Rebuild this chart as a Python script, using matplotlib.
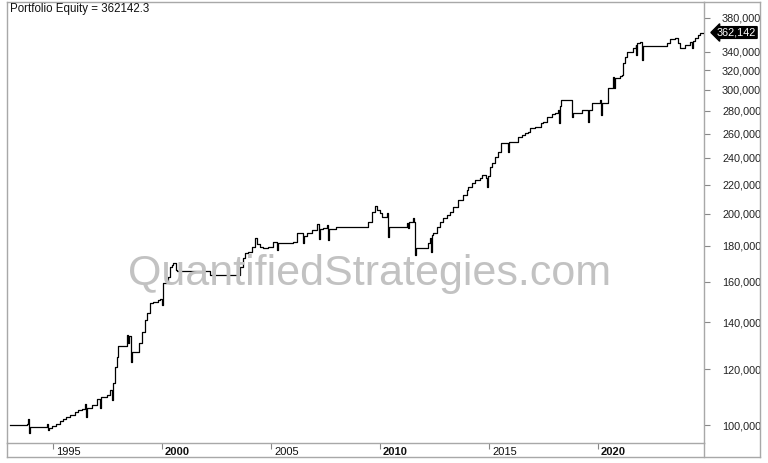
import matplotlib
matplotlib.use("Agg")
import matplotlib.pyplot as plt
import matplotlib.transforms as mtransforms
from matplotlib.lines import Line2D
from matplotlib.ticker import NullLocator, FixedLocator

plt.rcParams['font.family'] = ['Liberation Sans', 'DejaVu Sans']

# ---- data (decimal year, portfolio equity) ----
dates = [
    1993.03, 1993.81, 1993.85, 1993.90, 1993.95, 1994.72, 1994.77, 1994.82, 1994.95,
    1995.14, 1995.32, 1995.46, 1995.60, 1995.78, 1996.01, 1996.15, 1996.33, 1996.47,
    1996.50, 1996.55, 1996.79, 1997.02, 1997.16, 1997.20, 1997.48, 1997.61, 1997.71,
    1997.75, 1997.84, 1997.94, 1997.98, 1998.39, 1998.45, 1998.50, 1998.58, 1998.62,
    1998.94, 1999.08, 1999.22, 1999.31, 1999.45, 1999.59, 1999.80, 1999.91, 2000.00,
    2000.05, 2000.23, 2000.28, 2000.37, 2000.46, 2000.50, 2000.64, 2000.69, 2002.20,
    2003.58, 2003.72, 2003.81, 2003.94, 2004.13, 2004.27, 2004.35, 2004.50, 2004.63,
    2004.86, 2005.09, 2005.28, 2005.33, 2006.01, 2006.19, 2006.47, 2006.52, 2006.65,
    2006.88, 2007.11, 2007.20, 2007.25, 2007.39, 2007.57, 2007.60, 2007.65, 2008.00,
    2009.45, 2009.63, 2009.77, 2009.86, 2010.00, 2010.09, 2010.32, 2010.37, 2010.42,
    2011.24, 2011.28, 2011.33, 2011.51, 2011.56, 2011.61, 2011.66, 2012.20, 2012.29,
    2012.34, 2012.38, 2012.43, 2012.61, 2012.75, 2012.89, 2013.07, 2013.21, 2013.35,
    2013.58, 2013.81, 2013.99, 2014.05, 2014.22, 2014.36, 2014.59, 2014.68, 2014.88,
    2014.91, 2014.96, 2015.05, 2015.14, 2015.28, 2015.41, 2015.55, 2015.87, 2015.92,
    2016.33, 2016.51, 2016.65, 2016.79, 2016.88, 2017.11, 2017.39, 2017.48, 2017.66,
    2017.89, 2018.03, 2018.17, 2018.20, 2018.25, 2018.30, 2018.81, 2018.86, 2019.27,
    2019.54, 2019.55, 2019.60, 2019.72, 2020.09, 2020.12, 2020.17, 2020.46, 2020.69,
    2020.75, 2020.80, 2021.01, 2021.10, 2021.15, 2021.24, 2021.33, 2021.61, 2021.74,
    2021.76, 2021.80, 2021.93, 2022.00, 2022.04, 2023.17, 2023.30, 2023.53, 2023.67,
    2023.76, 2023.85, 2023.99, 2024.22, 2024.30, 2024.35, 2024.45, 2024.59, 2024.68,
    2024.82, 2024.86,
]
equity = [
    100000, 100300, 102000, 97400, 99300, 100400, 98400, 99000, 99700,
    100300, 101300, 102000, 102700, 103300, 104400, 105000, 105400, 107100,
    102700, 105700, 106800, 108900, 105700, 109600, 110400, 112200, 108500,
    114800, 121000, 125000, 129500, 134300, 131000, 134000, 123000, 127000,
    130800, 135700, 141100, 144400, 149200, 149700, 150500, 151000, 148200,
    159300, 160500, 162400, 167900, 169000, 170100, 166200, 165800, 163500,
    167900, 172900, 175800, 176300, 179300, 184600, 181000, 179300, 178700,
    179300, 182200, 177500, 181600, 182200, 187700, 181600, 186000, 187700,
    189500, 193300, 184000, 190000, 190800, 192700, 183400, 190200, 191400,
    194600, 201000, 205000, 202400, 200400, 197800, 200400, 185200, 191400,
    193900, 190800, 194600, 197100, 194600, 174600, 178700, 181600, 184600,
    176300, 186500, 187700, 191400, 194600, 197100, 199100, 201000, 204400,
    209100, 212500, 216000, 218200, 221100, 223200, 224700, 226900, 224700,
    218200, 226000, 233000, 236100, 240700, 244700, 252100, 244700, 252900,
    257100, 258800, 260500, 261300, 264800, 265600, 269100, 270000, 274500,
    277200, 278100, 280900, 269100, 285000, 290200, 274500, 278100, 280900,
    279000, 270000, 280900, 287400, 290200, 276300, 287400, 301900, 312900,
    301900, 311900, 313900, 314900, 327600, 334100, 339600, 344100, 347500,
    336300, 349800, 350900, 330800, 346300, 349800, 354400, 355500, 349800,
    344100, 344100, 347500, 350900, 344100, 352000, 355500, 359000, 361400,
    362142, 362142,
]
last_value = 362142.3
year_ticks = [1995, 2000, 2005, 2010, 2015, 2020]
year_labels = ['1995', '2000', '2005', '2010', '2015', '2020']
bold_years = ['2000', '2010', '2020']
y_ticks = [100000, 120000, 140000, 160000, 180000, 200000, 220000, 240000,
           260000, 280000, 300000, 320000, 340000, 380000]

W, H = 768, 463
def fx(px): return px / W
def fy(py): return 1 - py / H

fig = plt.figure(figsize=(W / 100, H / 100), dpi=100)
ax = fig.add_axes([fx(7), fy(443), fx(704) - fx(7), fy(2) - fy(443)])

ax.plot(dates, equity, drawstyle='steps-post', color='black', lw=0.9, zorder=3)
ax.set_yscale('log')
ax.set_xlim(1992.89, 2024.86)
ax.set_ylim(94270, 400240)

# y axis on the right
ax.yaxis.tick_right()
ax.yaxis.set_major_locator(FixedLocator(y_ticks))
ax.yaxis.set_minor_locator(NullLocator())
ax.set_yticklabels([f"{v:,}" for v in y_ticks])
ax.tick_params(axis='y', which='major', length=4, width=0.8, color='#888888',
               pad=9, labelsize=7.8, labelcolor='#222222', direction='out')

# x axis
ax.set_xticks(year_ticks)
ax.xaxis.set_minor_locator(NullLocator())
ax.set_xticklabels(year_labels)
ax.tick_params(axis='x', length=4, width=0.8, color='#888888', pad=-1,
               labelsize=8, labelcolor='#111111', direction='out')
offset = mtransforms.ScaledTranslation(3 / 100, 0, fig.dpi_scale_trans)
for lab in ax.get_xticklabels():
    lab.set_horizontalalignment('left')
    lab.set_transform(lab.get_transform() + offset)
    if lab.get_text() in bold_years:
        lab.set_fontweight('bold')

for sp in ax.spines.values():
    sp.set_color('#a8a8a8')
    sp.set_linewidth(1.0)

# outer frame lines
frame_kw = dict(color='#a8a8a8', lw=1.0, transform=fig.transFigure)
fig.add_artist(Line2D([fx(7), fx(7)], [fy(443), fy(457)], **frame_kw))
fig.add_artist(Line2D([fx(7), fx(760)], [fy(457), fy(457)], **frame_kw))
fig.add_artist(Line2D([fx(704), fx(704)], [fy(443), fy(457)], **frame_kw))
fig.add_artist(Line2D([fx(760), fx(760)], [fy(2), fy(457)], **frame_kw))
fig.add_artist(Line2D([fx(704), fx(760)], [fy(2), fy(2)], **frame_kw))

# title text
ax.text(0.004, 0.997, f"Portfolio Equity = {last_value}", transform=ax.transAxes,
        ha='left', va='top', fontsize=8.3, color='#111111')

# watermark
fig.text(fx(370), fy(285), "QuantifiedStrategies.com", ha='center', va='baseline',
         fontsize=31, color='#c2c2c2', zorder=0)

# last value tag
tr = mtransforms.blended_transform_factory(fig.transFigure, ax.transData)
ax.text(fx(717), equity[-1], f"{int(round(last_value)):,}", transform=tr,
        ha='left', va='center', fontsize=7.8, color='white', clip_on=False,
        bbox=dict(boxstyle='larrow,pad=0.08', fc='black', ec='black'), zorder=5)

fig.savefig('out.png', dpi=100)
